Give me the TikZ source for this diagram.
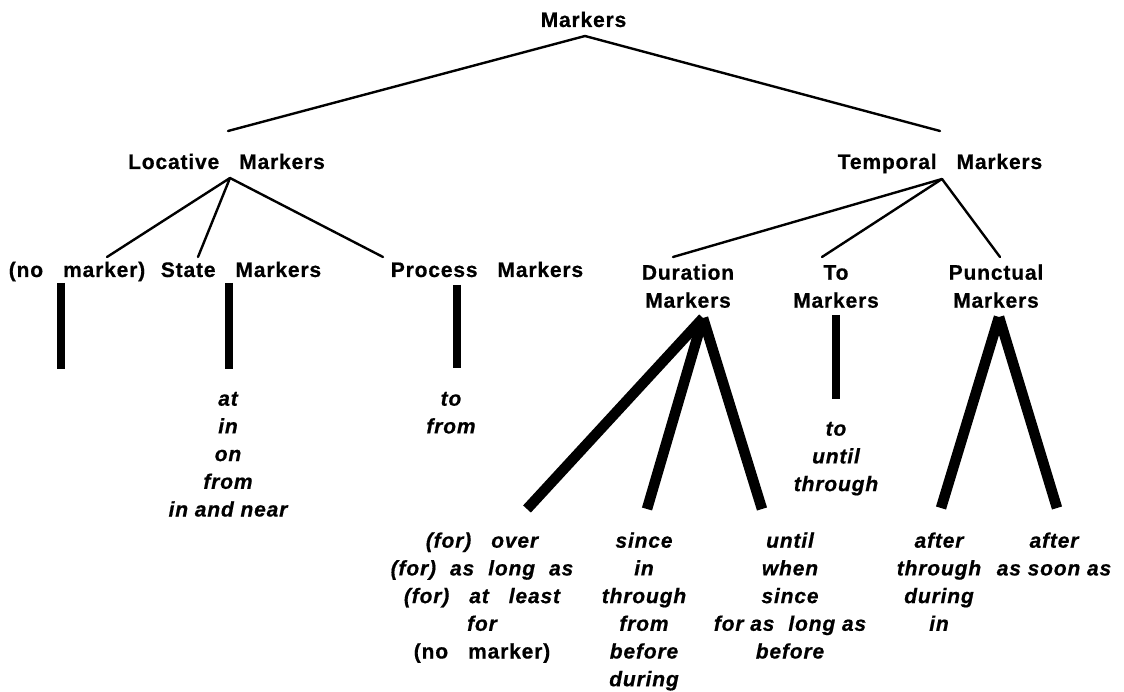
\documentclass[tikz,border=0pt]{standalone}
\usepackage{fontspec}
\setmainfont{Liberation Sans}[LetterSpace=4,
  BoldFeatures={FakeBold=0.6}, BoldItalicFeatures={FakeBold=0.6}]
% invisible rule fixing the height of the first line of a stacked node
\newcommand\tallstrut{\rule{0pt}{15.5pt}}
% wide and medium word gaps
\newcommand\widegap{\hspace{20pt}}
\newcommand\midgap{\hspace{14pt}}
\tikzset{
  catlabel/.style={font=\fontsize{21}{28}\selectfont\bfseries, inner sep=0pt, align=center},
  wordlist/.style={font=\fontsize{21}{27.7}\selectfont\bfseries\itshape, inner sep=0pt, align=center, anchor=north},
  branch/.style={line width=2.4pt, line cap=round},
  stem/.style={line width=8pt},
  thickbranch/.style={line width=10.5pt},
}
\begin{document}
\begin{tikzpicture}[x=1pt, y=-1pt]
  \useasboundingbox[fill=white] (0,0) rectangle (1124,692);

  % category labels
  \node[catlabel, anchor=base] (markers)  at (583.5,27) {Markers};
  \node[catlabel, anchor=base] (locative) at (226.5,169) {Locative\widegap Markers};
  \node[catlabel, anchor=base] (temporal) at (940,169) {Temporal\widegap Markers};
  \node[catlabel, anchor=base] (nomarker) at (77,277) {(no\widegap marker)};
  \node[catlabel, anchor=base] (state)    at (241,277) {State\widegap Markers};
  \node[catlabel, anchor=base] (process)  at (487,277) {Process\widegap Markers};
  \node[catlabel, anchor=north] (duration) at (688,264) {\tallstrut Duration\\Markers};
  \node[catlabel, anchor=north] (tomark)   at (836,264) {\tallstrut To\\Markers};
  \node[catlabel, anchor=north] (punctual) at (996,264) {\tallstrut Punctual\\Markers};

  % branching points and branch ends
  \coordinate (rootapex) at (585,36);
  \coordinate (locend)   at (228,131);
  \coordinate (tmpend)   at (940,131);
  \coordinate (locapex)  at (230,178);
  \coordinate (nomend)   at (107,257);
  \coordinate (stateend) at (198,257);
  \coordinate (procend)  at (383,257);
  \coordinate (tmpapex)  at (942,179);
  \coordinate (durend)   at (673,257);
  \coordinate (toend)    at (822,257);
  \coordinate (punend)   at (1000,257);

  \draw[branch] (locend) -- (rootapex) -- (tmpend);
  \draw[branch] (locapex) -- (nomend);
  \draw[branch] (locapex) -- (stateend);
  \draw[branch] (locapex) -- (procend);
  \draw[branch] (tmpapex) -- (durend);
  \draw[branch] (tmpapex) -- (toend);
  \draw[branch] (tmpapex) -- (punend);

  % thick stems to the word lists
  \coordinate (nomtop)   at (61,283);   \coordinate (nombot)   at (61,369);
  \coordinate (statetop) at (229,283);  \coordinate (statebot) at (229,369);
  \coordinate (proctop)  at (457,285);  \coordinate (procbot)  at (457,368);
  \coordinate (totop)    at (836,315);  \coordinate (tobot)    at (836,399);
  \draw[stem] (nomtop) -- (nombot);
  \draw[stem] (statetop) -- (statebot);
  \draw[stem] (proctop) -- (procbot);
  \draw[stem] (totop) -- (tobot);

  % thick branches below Duration and Punctual
  \coordinate (durapex) at (703,318);
  \coordinate (dura)    at (527,509);
  \coordinate (durb)    at (647,509);
  \coordinate (durc)    at (762,509);
  \coordinate (punapex) at (999,317);
  \coordinate (puna)    at (941,508);
  \coordinate (punb)    at (1057,508);
  \draw[thickbranch] (durapex) -- (dura);
  \draw[thickbranch] (durapex) -- (durb);
  \draw[thickbranch] (durapex) -- (durc);
  \draw[thickbranch] (punapex) -- (puna);
  \draw[thickbranch] (punapex) -- (punb);

  % word lists
  \node[wordlist] (statewords) at (228,390) {\tallstrut at\\in\\on\\from\\in and near};
  \node[wordlist] (procwords)  at (451,390) {\tallstrut to\\from};
  \node[wordlist] (towords)    at (836,420) {\tallstrut to\\until\\through};
  \node[wordlist] (durwordsa)  at (482,532) {\tallstrut (for)\widegap over\\(for)\midgap as\midgap long\midgap as\\(for)\widegap at\widegap least\\for\\{\upshape (no\widegap marker)}};
  \node[wordlist] (durwordsb)  at (644,532) {\tallstrut since\\in\\through\\from\\before\\during};
  \node[wordlist] (durwordsc)  at (790,532) {\tallstrut until\\when\\since\\for as\midgap long as\\before};
  \node[wordlist] (punwordsa)  at (939,532) {\tallstrut after\\through\\during\\in};
  \node[wordlist] (punwordsb)  at (1054,532) {\tallstrut after\\as soon as};
\end{tikzpicture}
\end{document}
